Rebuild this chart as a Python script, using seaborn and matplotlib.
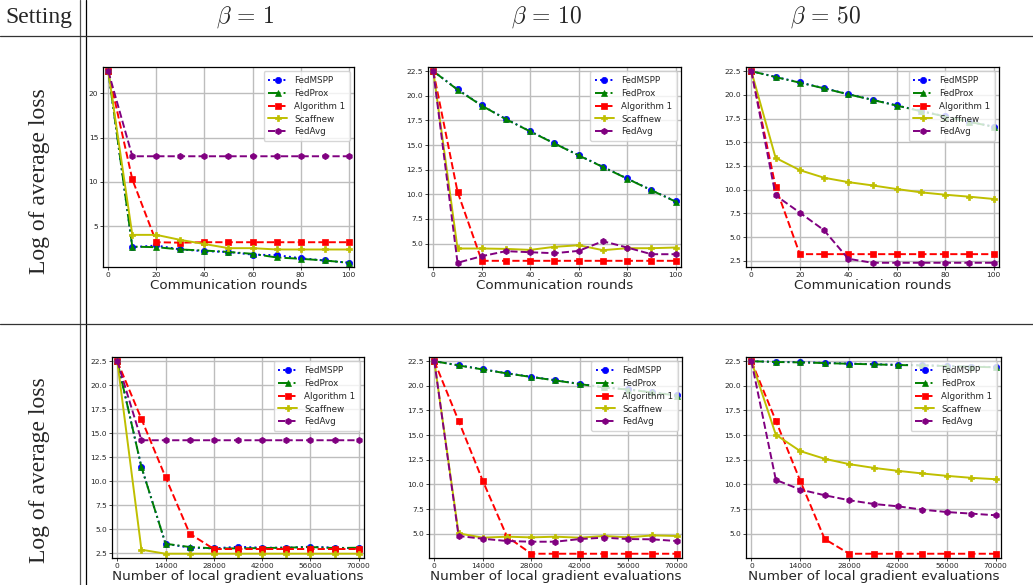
import seaborn as sns
import matplotlib.pyplot as plt
from matplotlib.lines import Line2D
from matplotlib.ticker import MultipleLocator

# x axes
rounds = [0, 10, 20, 30, 40, 50, 60, 70, 80, 90, 100]
evals = [0, 7000, 14000, 21000, 28000, 35000, 42000, 49000, 56000, 63000, 70000]

methods = ["FedMSPP", "FedProx", "Algorithm 1", "Scaffnew", "FedAvg"]
betas = [1, 10, 50]

# beta = 1, communication rounds
fedmspp_r1 = [22.5, 2.64, 2.83, 2.38, 2.19, 2.10, 1.80, 1.74, 1.40, 1.14, 0.88]
fedprox_r1 = [22.5, 2.70, 2.64, 2.38, 2.26, 2.10, 1.89, 1.48, 1.33, 1.14, 0.88]
alg1_r1 = [22.5, 10.29, 3.20, 3.15, 3.20, 3.20, 3.20, 3.20, 3.20, 3.20, 3.20]
scaff_r1 = [22.5, 4.03, 4.03, 3.46, 3.00, 2.53, 2.53, 2.38, 2.38, 2.38, 2.38]
fedavg_r1 = [22.5, 12.9, 12.9, 12.9, 12.9, 12.9, 12.9, 12.9, 12.9, 12.9, 12.9]

# beta = 10, communication rounds
fedmspp_r10 = [22.5, 20.65, 19.03, 17.64, 16.40, 15.18, 13.97, 12.79, 11.61, 10.43, 9.28]
fedprox_r10 = [22.5, 20.62, 19.00, 17.62, 16.38, 15.16, 13.95, 12.77, 11.59, 10.41, 9.26]
alg1_r10 = [22.5, 10.26, 3.25, 3.25, 3.25, 3.25, 3.25, 3.25, 3.25, 3.25, 3.25]
scaff_r10 = [22.5, 4.50, 4.50, 4.46, 4.36, 4.67, 4.83, 4.33, 4.53, 4.53, 4.60]
fedavg_r10 = [22.5, 3.05, 3.72, 4.23, 4.12, 4.02, 4.26, 5.24, 4.60, 3.92, 3.92]

# beta = 50, communication rounds
fedmspp_r50 = [22.5, 21.90, 21.31, 20.71, 20.08, 19.49, 18.89, 18.30, 17.74, 17.18, 16.65]
fedprox_r50 = [22.5, 21.88, 21.29, 20.69, 20.06, 19.47, 18.87, 18.28, 17.72, 17.16, 16.63]
alg1_r50 = [22.5, 10.31, 3.20, 3.20, 3.20, 3.20, 3.20, 3.20, 3.20, 3.20, 3.20]
scaff_r50 = [22.5, 13.36, 12.06, 11.26, 10.80, 10.45, 10.07, 9.72, 9.47, 9.26, 9.02]
fedavg_r50 = [22.5, 9.40, 7.58, 5.72, 2.71, 2.29, 2.29, 2.29, 2.29, 2.29, 2.29]

# beta = 1, local gradient evaluations
fedmspp_e1 = [22.5, 11.47, 3.47, 3.06, 2.99, 3.16, 3.06, 3.06, 3.16, 3.06, 2.99]
fedprox_e1 = [22.5, 11.47, 3.47, 3.13, 2.99, 2.99, 3.02, 3.06, 3.13, 3.02, 3.06]
alg1_e1 = [22.5, 16.48, 10.40, 4.52, 2.92, 2.92, 2.92, 2.92, 2.92, 2.92, 2.92]
scaff_e1 = [22.5, 2.85, 2.43, 2.43, 2.43, 2.43, 2.43, 2.43, 2.43, 2.43, 2.43]
fedavg_e1 = [22.5, 14.26, 14.26, 14.26, 14.26, 14.26, 14.26, 14.26, 14.26, 14.26, 14.26]

# beta = 10, local gradient evaluations
fedmspp_e10 = [22.5, 22.09, 21.68, 21.28, 20.92, 20.57, 20.20, 19.86, 19.64, 19.35, 19.04]
fedprox_e10 = [22.5, 22.07, 21.66, 21.26, 20.90, 20.55, 20.18, 19.84, 19.62, 19.33, 19.02]
alg1_e10 = [22.5, 16.46, 10.36, 4.70, 2.97, 2.97, 2.97, 2.97, 2.97, 2.97, 2.97]
scaff_e10 = [22.5, 5.04, 4.60, 4.70, 4.63, 4.70, 4.60, 4.77, 4.63, 4.83, 4.77]
fedavg_e10 = [22.5, 4.77, 4.49, 4.26, 4.19, 4.19, 4.46, 4.60, 4.46, 4.43, 4.26]

# beta = 50, local gradient evaluations
fedmspp_e50 = [22.5, 22.43, 22.40, 22.33, 22.26, 22.20, 22.13, 22.09, 22.03, 21.96, 21.90]
fedprox_e50 = [22.5, 22.42, 22.38, 22.31, 22.24, 22.18, 22.11, 22.07, 22.01, 21.94, 21.88]
alg1_e50 = [22.5, 16.46, 10.36, 4.46, 2.97, 2.97, 2.97, 2.97, 2.97, 2.97, 2.97]
scaff_e50 = [22.5, 15.04, 13.38, 12.60, 12.06, 11.68, 11.38, 11.11, 10.87, 10.67, 10.53]
fedavg_e50 = [22.5, 10.46, 9.48, 8.90, 8.40, 8.02, 7.78, 7.44, 7.20, 7.04, 6.87]

top_row = [
    [fedmspp_r1, fedprox_r1, alg1_r1, scaff_r1, fedavg_r1],
    [fedmspp_r10, fedprox_r10, alg1_r10, scaff_r10, fedavg_r10],
    [fedmspp_r50, fedprox_r50, alg1_r50, scaff_r50, fedavg_r50],
]
bottom_row = [
    [fedmspp_e1, fedprox_e1, alg1_e1, scaff_e1, fedavg_e1],
    [fedmspp_e10, fedprox_e10, alg1_e10, scaff_e10, fedavg_e10],
    [fedmspp_e50, fedprox_e50, alg1_e50, scaff_e50, fedavg_e50],
]

# color, linestyle, marker per method
styles = {
    "FedMSPP": ("blue", ":", "o"),
    "FedProx": ("green", "-.", "^"),
    "Algorithm 1": ("red", "--", "s"),
    "Scaffnew": ("#bfbf00", "-", "P"),
    "FedAvg": ("purple", "--", "h"),
}

sns.set_style("ticks", {"axes.grid": True, "axes.edgecolor": "black",
                        "grid.color": "#bdbdbd"})
plt.rcParams["mathtext.fontset"] = "cm"

fig = plt.figure(figsize=(10.33, 5.85), dpi=100)

top_pos = [[0.0997, 0.5436, 0.2430, 0.3419],
           [0.4143, 0.5436, 0.2449, 0.3419],
           [0.7222, 0.5436, 0.2449, 0.3419]]
bottom_pos = [[0.1084, 0.0462, 0.2440, 0.3436],
              [0.4153, 0.0462, 0.2449, 0.3436],
              [0.7222, 0.0462, 0.2469, 0.3436]]


def draw_panel(pos, x, series, xlabel, xstep, ystep):
    ax = fig.add_axes(pos)
    for name, y in zip(methods, series):
        color, ls, mk = styles[name]
        sns.lineplot(x=x, y=y, ax=ax, color=color, linestyle=ls, marker=mk,
                     markersize=4.5, markeredgewidth=0.5, markeredgecolor=color,
                     linewidth=1.4, label=name, errorbar=None)
    ax.margins(x=0.022, y=0.022)
    ax.xaxis.set_major_locator(MultipleLocator(xstep))
    ax.yaxis.set_major_locator(MultipleLocator(ystep))
    ax.grid(True, linewidth=1.0)
    ax.tick_params(labelsize=5.4, length=2, width=0.6, pad=1.5)
    for s in ax.spines.values():
        s.set_linewidth(0.9)
    ax.set_xlabel(xlabel, fontsize=9.7, labelpad=0.5, color="#262626")
    ax.set_ylabel("")
    ax.legend(loc="upper right", fontsize=6.3, handlelength=2.2,
              borderpad=0.5, labelspacing=0.45, handletextpad=0.8)
    return ax


for i in range(3):
    draw_panel(top_pos[i], rounds, top_row[i], "Communication rounds", 20,
               5 if i == 0 else 2.5)
    draw_panel(bottom_pos[i], evals, bottom_row[i],
               "Number of local gradient evaluations", 14000, 2.5)

# table frame
W, H = 1033, 585
for xp, c in [(80, "#555555"), (86, "black")]:
    fig.add_artist(Line2D([xp / W, xp / W], [0, 1], color=c, linewidth=0.9))
for yp in [36, 324]:
    fig.add_artist(Line2D([0, 1], [1 - yp / H, 1 - yp / H], color="#333333",
                          linewidth=0.9))

fig.text(5 / W, 1 - 18 / H, "Setting", ha="left", va="center",
         family="Liberation Serif", fontsize=17)
for xc, b in zip([245, 547, 826], betas):
    fig.text(xc / W, 1 - 17 / H, r"$\beta\,=\,%d$" % b, ha="center",
             va="center", fontsize=17)
for yc in [181, 470]:
    fig.text(40 / W, 1 - yc / H, "Log of average loss", rotation=90,
             ha="center", va="center", family="Liberation Serif", fontsize=17)

fig.savefig("out.png", dpi=100)
